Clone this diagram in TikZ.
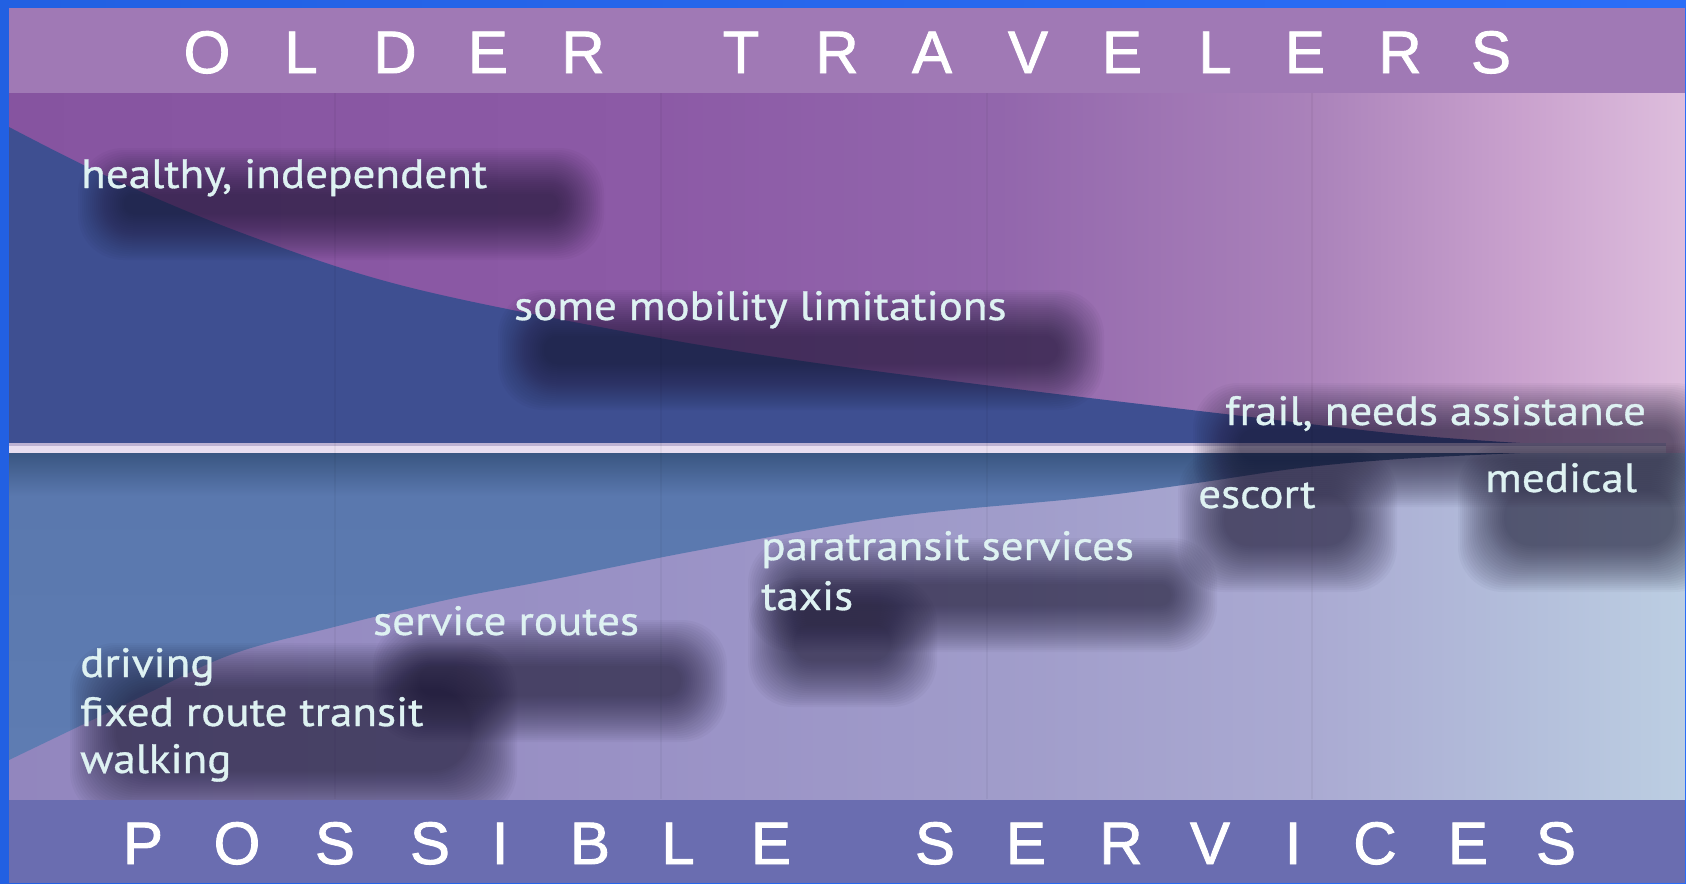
\documentclass[tikz,border=0pt]{standalone}
\usepackage{fontspec}
\setmainfont{PT Sans}[FakeStretch=1.1, FakeBold=0.8]
\newfontfamily\titlefont{Liberation Sans}[FakeBold=1.5]
\definecolor{frameblue}{RGB}{34,96,226}
\definecolor{frameblueR}{RGB}{42,110,248}
\definecolor{topband}{RGB}{160,121,181}
\definecolor{botband}{RGB}{106,109,176}
\definecolor{ublue}{RGB}{62,79,145}
\definecolor{labelc}{RGB}{222,242,242}
\definecolor{shadowc}{RGB}{26,22,48}
\definecolor{lineC}{RGB}{232,222,240}
\definecolor{lineTop}{RGB}{189,178,210}
\definecolor{u0}{RGB}{134,84,160}
\definecolor{u1}{RGB}{140,90,166}
\definecolor{u2}{RGB}{146,102,172}
\definecolor{u3}{RGB}{170,130,186}
\definecolor{u4}{RGB}{202,162,206}
\definecolor{u5}{RGB}{222,190,221}
\definecolor{l0}{RGB}{146,134,190}
\definecolor{l1}{RGB}{154,146,198}
\definecolor{l2}{RGB}{160,156,202}
\definecolor{l3}{RGB}{170,170,210}
\definecolor{l4}{RGB}{178,188,218}
\definecolor{l5}{RGB}{188,206,226}
\definecolor{lb0}{RGB}{94,124,178}
\definecolor{lb1}{RGB}{90,120,174}
\definecolor{lb2}{RGB}{58,86,130}
\pgfdeclarehorizontalshading{upperbg}{100bp}{color(0bp)=(u0); color(25bp)=(u0); color(44.4bp)=(u1); color(54.5bp)=(u2); color(63.8bp)=(u3); color(70.2bp)=(u4); color(75bp)=(u5); color(100bp)=(u5)}
\pgfdeclarehorizontalshading{lowerbg}{100bp}{color(0bp)=(l0); color(25bp)=(l0); color(44.4bp)=(l1); color(54.5bp)=(l2); color(63.8bp)=(l3); color(69.5bp)=(l4); color(75bp)=(l5); color(100bp)=(l5)}
\pgfdeclareverticalshading{lowerblue}{100bp}{color(0bp)=(lb0); color(25bp)=(lb0); color(68bp)=(lb1); color(75bp)=(lb2); color(100bp)=(lb2)}
% soft pill-shaped shadow made of stacked translucent layers
\newcommand{\softblob}[4]{%
  \foreach \k in {0,...,23}{%
    \pgfmathsetmacro{\dx}{min(2*\k,(#3-#1)/2-4)}%
    \pgfmathsetmacro{\dy}{min(2*\k,(#4-#2)/2-4)}%
    \pgfmathsetmacro{\rr}{max(1,min(45,((#4-#2)/2-\dy)*0.95))}%
    \fill[shadowc, opacity=0.034, rounded corners=\rr bp]
      ({#1+\dx},{#2+\dy}) rectangle ({#3-\dx},{#4-\dy});
  }}
\tikzset{
  titlel/.style={text=white, font=\titlefont\fontsize{60bp}{60bp}\selectfont, anchor=base, inner sep=0pt},
  lbl/.style={text=labelc, font=\fontsize{41bp}{41bp}\selectfont, anchor=base west, inner sep=0pt},
  seam/.style={draw=black, opacity=0.04, line width=1.5bp}
}
\begin{document}
\begin{tikzpicture}[x=1bp,y=-1bp]
\useasboundingbox (0,0) rectangle (1686,883);
% frame
\shade[left color=frameblue, right color=frameblueR] (0,0) rectangle (1686,883);
% bands
\fill[topband] (9,8) rectangle (1686,93);
\fill[botband] (9,799) rectangle (1686,883);
% upper region
\shade[shading=upperbg] (9,93) rectangle (1686,443);
\fill[ublue] plot[smooth, tension=0.6] coordinates {(9,127) (115,180) (250,236) (400,285) (600,327) (782,358) (1000,387) (1225,414) (1400,434) (1520,443)} -- (9,443) -- cycle;
% lower region
\shade[shading=lowerbg] (9,453) rectangle (1686,799);
\shade[shading=lowerblue] (9,453) -- (1520,453) -- plot[smooth, tension=0.6] coordinates {(1520,453) (1400,459) (1300,468) (1190,484) (1083,498) (891,517) (700,550) (550,580) (446,600) (330,628) (230,655) (134,700) (9,760)} -- cycle;
% divider
\fill[lineC] (9,443) rectangle (1666,453);
\fill[lineTop] (9,443) rectangle (1666,446);
\fill[u5] (1666,443) rectangle (1686,453);
% seams
\foreach \sx in {335,661,987,1312}{\draw[seam] (\sx,93) -- (\sx,799);}
% shadows
\begin{scope}
\clip (9,93) rectangle (1686,799);
\softblob{78}{148}{604}{260}
\softblob{498}{290}{1104}{410}
\softblob{1193}{383}{1720}{507}
\softblob{1178}{448}{1397}{592}
\softblob{1458}{443}{1720}{592}
\softblob{748}{538}{1217}{652}
\softblob{748}{578}{937}{707}
\softblob{373}{620}{727}{742}
\softblob{70}{643}{517}{817}
\end{scope}
% right edge line
\fill[frameblueR] (1685,8) rectangle (1686,883);
% titles
\foreach \c/\x [count=\i] in {O/207,L/301,D/395,E/488,R/583,T/741,R/837,A/932,V/1028,E/1122,L/1215,E/1305,R/1400,S/1491}
  \node[titlel] (top\i) at (\x,73) {\c};
\foreach \c/\x [count=\i] in {P/143,O/237,S/335,S/430,I/500,B/590,L/678,E/771,S/935,E/1026,R/1121,V/1210,I/1293,C/1375,E/1468,S/1556}
  \node[titlel] (bot\i) at (\x,864) {\c};
% labels
\node[lbl] (healthy) at (81,188) {healthy, independent};
\node[lbl] (mobility) at (514,320) {some mobility limitations};
\node[lbl] (frail) at (1225,425) {frail, needs assistance};
\node[lbl] (escort) at (1198,508) {escort};
\node[lbl] (medical) at (1485,492) {medical};
\node[lbl] (para) at (761,560) {paratransit services};
\node[lbl] (taxis) at (761,610) {taxis};
\node[lbl] (service) at (373,635) {service routes};
\node[lbl] (driving) at (80,677) {driving};
\node[lbl] (fixed) at (80,726) {fixed route transit};
\node[lbl] (walking) at (80,773) {walking};
\end{tikzpicture}
\end{document}
